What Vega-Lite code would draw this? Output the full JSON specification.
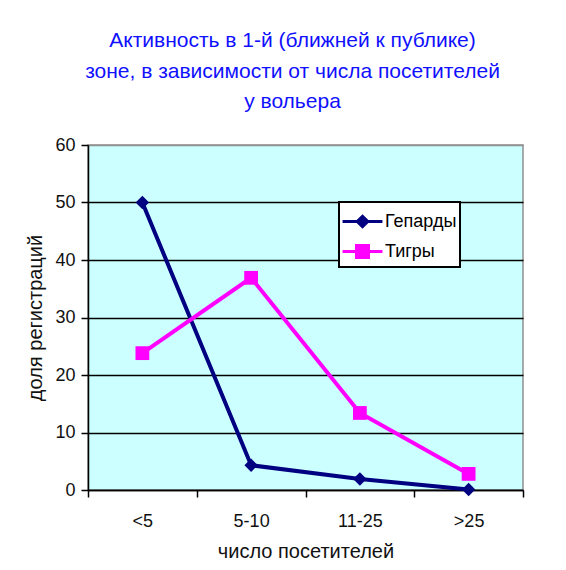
{
  "$schema": "https://vega.github.io/schema/vega-lite/v6.json",
  "width": 435,
  "height": 345,
  "autosize": {"type": "none"},
  "padding": {"left": 88, "top": 145, "right": 43, "bottom": 80},
  "background": "white",
  "title": {
    "text": ["Активность в 1-й (ближней к публике)", "зоне, в зависимости от числа посетителей", "у вольера"],
    "font": "Liberation Sans",
    "fontSize": 21,
    "fontWeight": "normal",
    "color": "#1010ff",
    "lineHeight": 30.5,
    "anchor": "middle",
    "frame": "group",
    "dx": -13,
    "offset": 24
  },
  "data": {
    "values": [
      {"group": "<5", "series": "Гепарды", "value": 50},
      {"group": "5-10", "series": "Гепарды", "value": 4.3},
      {"group": "11-25", "series": "Гепарды", "value": 1.9},
      {"group": ">25", "series": "Гепарды", "value": 0.1},
      {"group": "<5", "series": "Тигры", "value": 23.8},
      {"group": "5-10", "series": "Тигры", "value": 36.9},
      {"group": "11-25", "series": "Тигры", "value": 13.4},
      {"group": ">25", "series": "Тигры", "value": 2.8}
    ]
  },
  "encoding": {
    "x": {
      "field": "group",
      "type": "nominal",
      "sort": ["<5", "5-10", "11-25", ">25"],
      "scale": {"type": "band", "paddingInner": 0, "paddingOuter": 0},
      "axis": {
        "title": "число посетителей",
        "labelAngle": 0,
        "tickBand": "extent",
        "domainColor": "black",
        "tickColor": "black",
        "tickSize": 7,
        "labelPadding": 15,
        "titlePadding": 11,
        "grid": false
      }
    },
    "y": {
      "field": "value",
      "type": "quantitative",
      "scale": {"domain": [0, 60], "nice": false},
      "axis": {
        "title": "доля регистраций",
        "values": [0, 10, 20, 30, 40, 50, 60],
        "domainColor": "black",
        "tickColor": "black",
        "tickSize": 7,
        "labelPadding": 6,
        "titlePadding": 9,
        "grid": true,
        "gridColor": {"condition": {"test": "datum.value === 60", "value": "#909090"}, "value": "black"},
        "gridWidth": 1.5,
        "gridOpacity": 1
      }
    },
    "color": {
      "field": "series",
      "type": "nominal",
      "scale": {"domain": ["Гепарды", "Тигры"], "range": ["#000080", "#ff00ff"]},
      "legend": {
        "title": null,
        "orient": "none",
        "legendX": 251,
        "legendY": 57,
        "fillColor": "white",
        "strokeColor": "black",
        "padding": 3,
        "symbolSize": 900,
        "symbolOffset": 4,
        "labelOffset": 6,
        "rowPadding": 2,
        "labelFontSize": 18,
        "labelFont": "Liberation Sans",
        "labelColor": "black",
        "encode": {
          "legend": {"update": {"strokeWidth": {"value": 2}}},
          "symbols": {
            "update": {
              "shape": {"signal": "datum.value === 'Гепарды' ? 'M-1.33,0L1.33,0M0,-0.35L0.35,0L0,0.35L-0.35,0Z' : 'M-1.33,0L1.33,0M-0.4,-0.4L0.4,-0.4L0.4,0.4L-0.4,0.4Z'"},
              "fill": {"scale": "color", "field": "value"},
              "stroke": {"scale": "color", "field": "value"},
              "strokeWidth": {"value": 3},
              "opacity": {"value": 1}
            }
          }
        }
      }
    }
  },
  "layer": [
    {
      "mark": {"type": "line", "strokeWidth": 4}
    },
    {
      "transform": [{"filter": "datum.series === 'Гепарды'"}],
      "mark": {"type": "point", "filled": true, "size": 180, "opacity": 1, "shape": "diamond"}
    },
    {
      "transform": [{"filter": "datum.series === 'Тигры'"}],
      "mark": {"type": "point", "filled": true, "size": 190, "opacity": 1, "shape": "square"}
    }
  ],
  "config": {
    "font": "Liberation Sans",
    "view": {"fill": "#ccffff", "stroke": "#909090", "strokeWidth": 1.5},
    "axis": {
      "labelFont": "Liberation Sans",
      "labelFontSize": 18,
      "labelColor": "#111111",
      "titleFont": "Liberation Sans",
      "titleFontSize": 20,
      "titleFontWeight": "normal",
      "titleColor": "#111111",
      "domainWidth": 1.5,
      "tickWidth": 1.5
    }
  }
}
